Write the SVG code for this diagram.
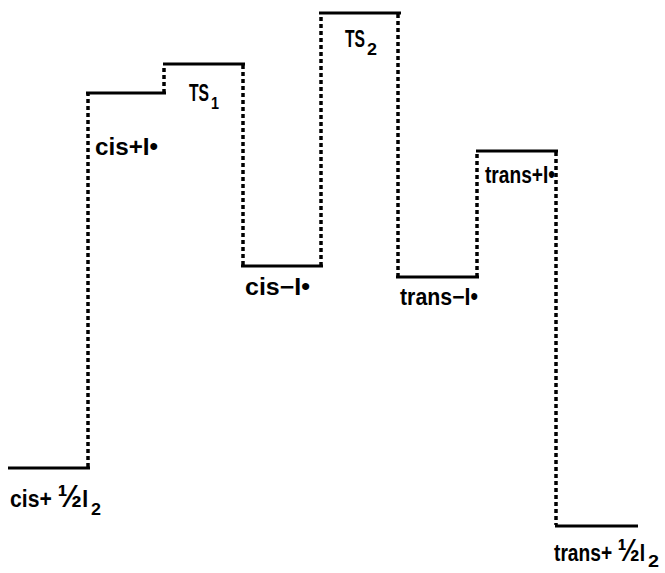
<svg xmlns="http://www.w3.org/2000/svg" width="665" height="573" viewBox="0 0 665 573">
<style>
.lvl{stroke:#000;stroke-width:3;fill:none}
.dot{stroke:#000;stroke-width:3.5;fill:none;stroke-dasharray:4 3}
text{font-family:"Liberation Sans","DejaVu Sans",sans-serif;font-size:23px;font-weight:bold;fill:#000}
.sub{font-size:17px}
.half{font-size:32px}
</style>
<rect width="665" height="573" fill="#fff"/>
<g id="connectors">
<line class="dot" x1="88" y1="467" x2="88" y2="94"/>
<line class="dot" x1="164" y1="93" x2="164" y2="65"/>
<line class="dot" x1="243" y1="65" x2="243" y2="266"/>
<line class="dot" x1="321" y1="266" x2="321" y2="14"/>
<line class="dot" x1="398" y1="14" x2="398" y2="277"/>
<line class="dot" x1="477" y1="277" x2="477" y2="152"/>
<line class="dot" x1="556" y1="152" x2="556" y2="525"/>
</g>
<g id="cis_half_I2">
<line class="lvl" x1="8" y1="468" x2="90" y2="468"/>
<text x="10" y="507" textLength="78" lengthAdjust="spacingAndGlyphs">cis+ <tspan class="half">½</tspan>I</text>
<text class="sub" x="91" y="515" textLength="10" lengthAdjust="spacingAndGlyphs">2</text>
</g>
<g id="cis_I">
<line class="lvl" x1="86" y1="93" x2="166" y2="93"/>
<text x="95" y="155" textLength="63" lengthAdjust="spacingAndGlyphs">cis+I•</text>
</g>
<g id="TS1">
<line class="lvl" x1="163" y1="64" x2="245" y2="64"/>
<text x="189" y="101" textLength="20" lengthAdjust="spacingAndGlyphs">TS</text>
<text class="sub" x="211" y="109" textLength="8" lengthAdjust="spacingAndGlyphs">1</text>
</g>
<g id="cis-I">
<line class="lvl" x1="241" y1="266" x2="323" y2="266"/>
<text x="245" y="295" textLength="65" lengthAdjust="spacingAndGlyphs">cis−I•</text>
</g>
<g id="TS2">
<line class="lvl" x1="319" y1="13" x2="401" y2="13"/>
<text x="345" y="47" textLength="20" lengthAdjust="spacingAndGlyphs">TS</text>
<text class="sub" x="367" y="55" textLength="10" lengthAdjust="spacingAndGlyphs">2</text>
</g>
<g id="trans-I">
<line class="lvl" x1="396" y1="277" x2="479" y2="277"/>
<text x="400" y="305" textLength="78" lengthAdjust="spacingAndGlyphs">trans−I•</text>
</g>
<g id="trans_I">
<line class="lvl" x1="476" y1="151" x2="558" y2="151"/>
<text x="485" y="183" textLength="70" lengthAdjust="spacingAndGlyphs">trans+I•</text>
</g>
<g id="trans_half_I2">
<line class="lvl" x1="555" y1="526" x2="638" y2="526"/>
<text x="554" y="561" textLength="91" lengthAdjust="spacingAndGlyphs">trans+ <tspan class="half">½</tspan>I</text>
<text class="sub" x="648" y="567" textLength="11" lengthAdjust="spacingAndGlyphs">2</text>
</g>
</svg>
